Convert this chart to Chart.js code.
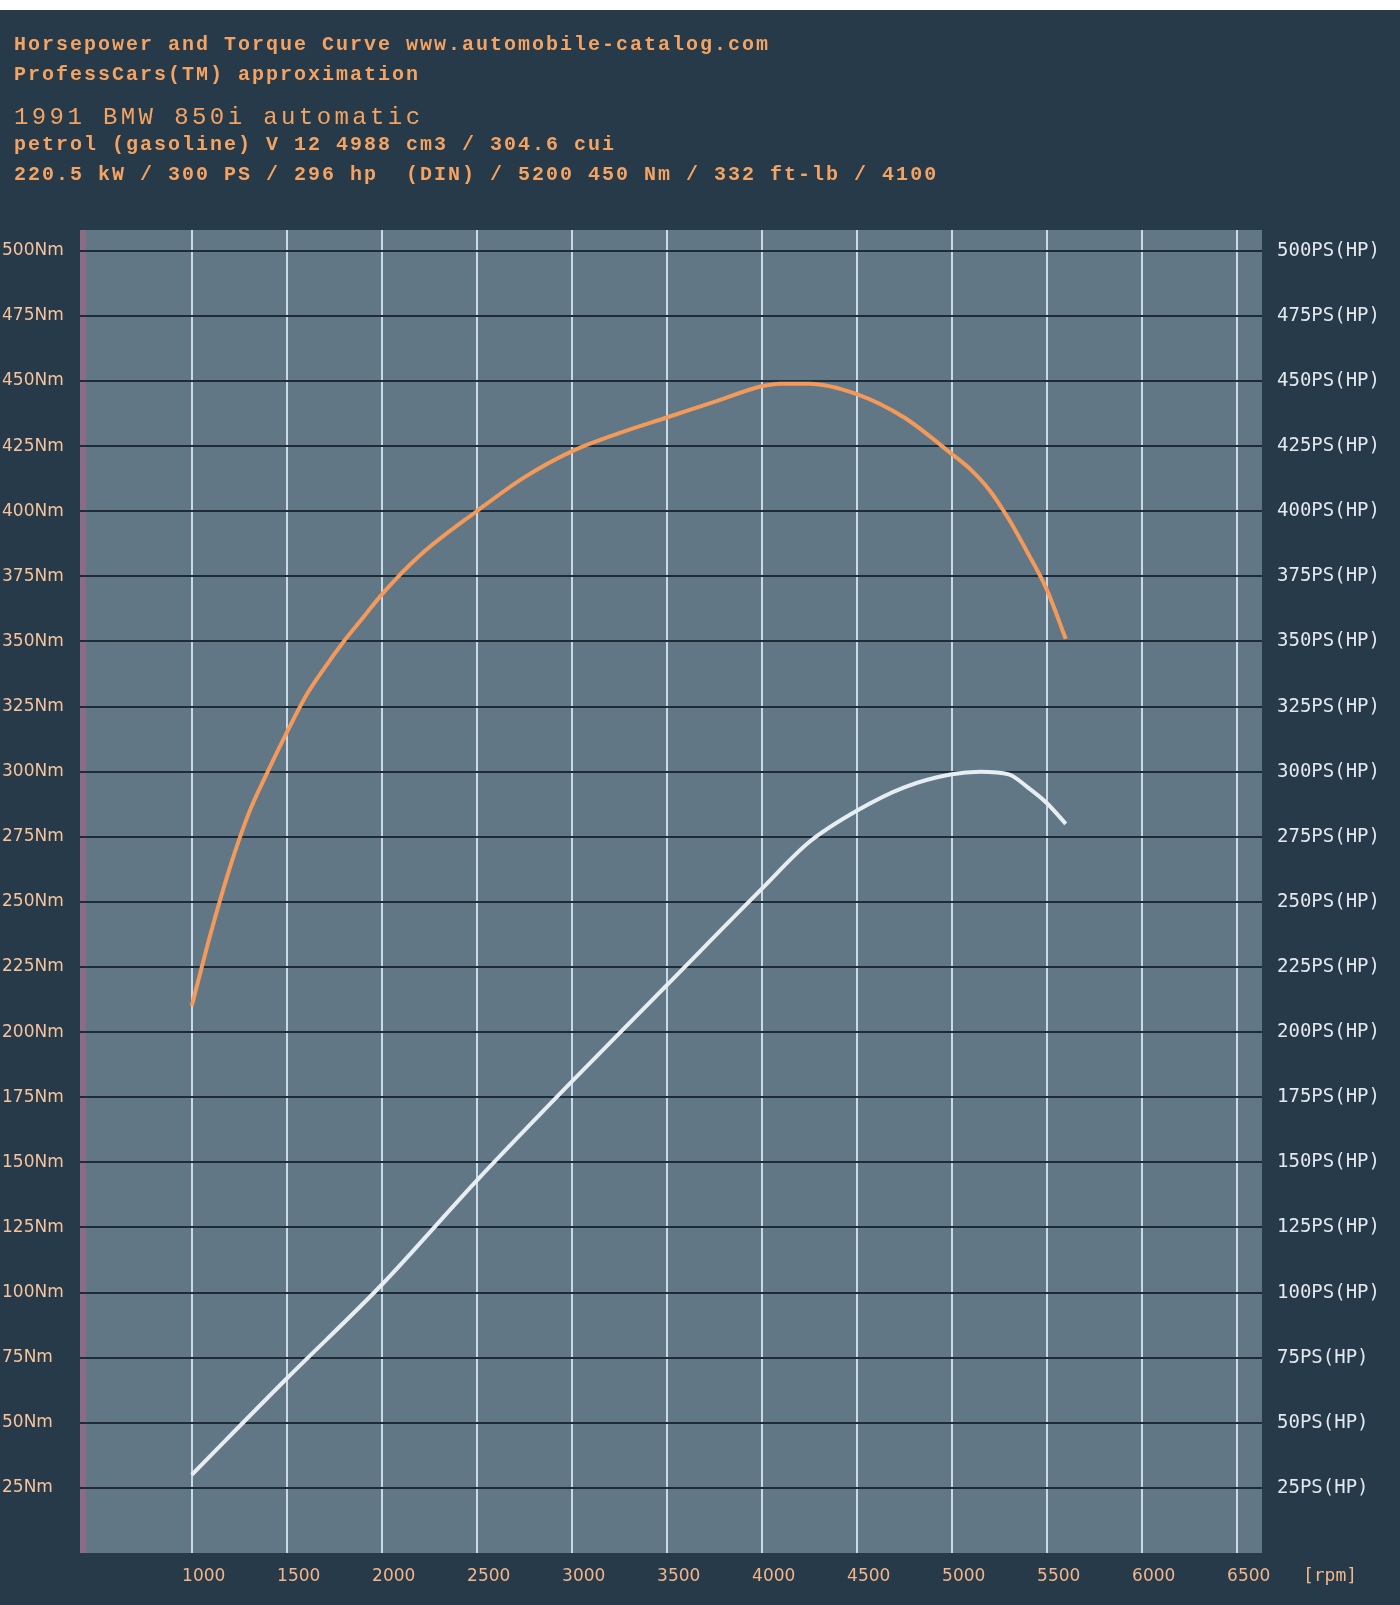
<!DOCTYPE html>
<html>
<head>
<meta charset="utf-8">
<script src="https://cdn.jsdelivr.net/npm/chart.js@4"></script>
<style>
  body { margin: 0; background: #ffffff; }
  #page { position: absolute; left: 0; top: 10px; width: 1400px; height: 1595px; background: #263a4a; }
  #wrap { position: absolute; left: 0; top: 0; width: 1400px; height: 1605px; }
  .hdr { position: absolute; left: 14px; color: #f4a362; font-family: "Liberation Mono", monospace; white-space: pre; line-height: 1; }
  .small { font-size: 20px; font-weight: bold; letter-spacing: 2px; }
  .big { font-size: 24px; letter-spacing: 3.4px; }
</style>
</head>
<body>
<div id="page"></div>
<div id="wrap"><canvas id="power-chart"></canvas></div>
<div class="hdr small" style="top:35px">Horsepower and Torque Curve www.automobile-catalog.com</div>
<div class="hdr small" style="top:65px">ProfessCars(TM) approximation</div>
<div class="hdr big" style="top:106px">1991 BMW 850i automatic</div>
<div class="hdr small" style="top:135px">petrol (gasoline) V 12 4988 cm3 / 304.6 cui</div>
<div class="hdr small" style="top:165px">220.5 kW / 300 PS / 296 hp  (DIN) / 5200 450 Nm / 332 ft-lb / 4100</div>
<script>
// values
const rpmTicks = [1000, 1500, 2000, 2500, 3000, 3500, 4000, 4500, 5000, 5500, 6000, 6500];
const valueTicks = [25, 50, 75, 100, 125, 150, 175, 200, 225, 250, 275, 300, 325, 350, 375, 400, 425, 450, 475, 500];

const torqueRpm = [1000, 1100, 1200, 1300, 1400, 1500, 1600, 1700, 1800, 1900, 2000, 2200, 2500, 2750, 3000, 3250, 3500, 3750, 4000, 4100, 4250, 4500, 4750, 5000, 5100, 5200, 5300, 5400, 5500, 5600];
const torqueNm = [210, 238, 263, 284, 300, 315, 329, 340, 350, 359, 368, 383, 400, 413, 423, 430, 436, 442, 448, 449, 449, 445, 436, 422, 416, 408, 397, 384, 370, 351];

const powerRpm = [1000, 1500, 2000, 2500, 3000, 3500, 4000, 4250, 4500, 4750, 5000, 5150, 5300, 5400, 5500, 5600];
const powerPs = [30, 67, 103, 143, 181, 218, 255, 273, 285, 294, 299, 300, 299, 294, 288, 280];

const yMin = 0, yMax = 508;
const xMin = 412, xMax = 6633;

// plot background, left stripe and the [rpm] unit label
const backdrop = {
  id: 'backdrop',
  beforeDraw(chart) {
    const { ctx, chartArea: a } = chart;
    ctx.save();
    ctx.fillStyle = '#627786';
    ctx.fillRect(a.left, a.top, a.right - a.left, a.bottom - a.top);
    ctx.fillStyle = '#8c6c85';
    ctx.fillRect(a.left, a.top, 6, a.bottom - a.top);
    ctx.restore();
  },
  afterDraw(chart) {
    const { ctx, chartArea: a } = chart;
    ctx.save();
    ctx.font = '18px "DejaVu Sans Mono"';
    ctx.fillStyle = '#f2b68a';
    ctx.textAlign = 'center';
    ctx.textBaseline = 'middle';
    ctx.fillText('[rpm]', a.right + 68, a.bottom + 23);
    ctx.restore();
  }
};

const ctx = document.getElementById('power-chart').getContext('2d');
new Chart(ctx, {
  type: 'line',
  data: {
    datasets: [{
      label: 'Torque',
      data: torqueRpm.map((r, i) => ({ x: r, y: torqueNm[i] })),
      borderColor: '#f3995a',
      borderWidth: 4,
      pointRadius: 0,
      cubicInterpolationMode: 'monotone',
      yAxisID: 'y'
    }, {
      label: 'Power',
      data: powerRpm.map((r, i) => ({ x: r, y: powerPs[i] })),
      borderColor: '#e6eef4',
      borderWidth: 4,
      pointRadius: 0,
      cubicInterpolationMode: 'monotone',
      yAxisID: 'ps'
    }]
  },
  options: {
    responsive: true,
    maintainAspectRatio: false,
    animation: false,
    layout: { padding: { top: 230, left: 2, right: 0, bottom: 0 } },
    plugins: { legend: { display: false }, tooltip: { enabled: false } },
    scales: {
      x: {
        type: 'linear',
        min: xMin,
        max: xMax,
        afterBuildTicks: s => { s.ticks = rpmTicks.map(v => ({ value: v })); },
        afterFit: s => { s.height = 52; },
        grid: { color: '#c9d9e6', lineWidth: 2, drawTicks: false },
        border: { display: false },
        ticks: {
          color: '#f2b68a',
          font: { family: 'DejaVu Sans', size: 17 },
          padding: 13,
          labelOffset: 12,
          maxRotation: 0,
          autoSkip: false,
          callback: v => String(v)
        }
      },
      y: {
        position: 'left',
        min: yMin,
        max: yMax,
        afterBuildTicks: s => { s.ticks = valueTicks.map(v => ({ value: v })); },
        afterFit: s => { s.width = 78; },
        grid: { color: '#1d2c38', lineWidth: 2, drawTicks: false },
        border: { display: false },
        ticks: {
          color: '#f6c39c',
          font: { family: 'DejaVu Sans', size: 17 },
          crossAlign: 'far',
          autoSkip: false,
          callback: v => v + 'Nm'
        }
      },
      ps: {
        position: 'right',
        min: yMin,
        max: yMax,
        afterBuildTicks: s => { s.ticks = valueTicks.map(v => ({ value: v })); },
        afterFit: s => { s.width = 138; },
        grid: { display: false, drawTicks: false },
        border: { display: false },
        ticks: {
          color: '#e4e8ee',
          font: { family: 'DejaVu Sans Mono', size: 19 },
          padding: 15,
          autoSkip: false,
          callback: v => v + 'PS(HP)'
        }
      }
    }
  },
  plugins: [backdrop]
});
</script>
</body>
</html>
